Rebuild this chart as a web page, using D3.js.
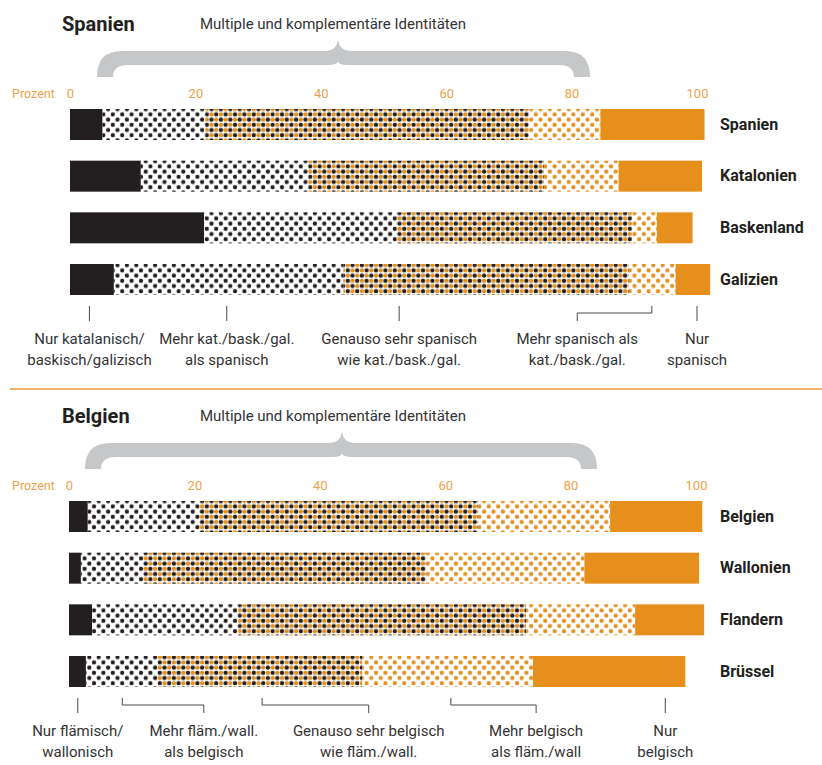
<!DOCTYPE html>
<html><head><meta charset="utf-8">
<script src="https://cdn.jsdelivr.net/npm/d3@7/dist/d3.min.js"></script>
<style>body{margin:0;background:#fff}svg{display:block;font-family:Roboto,"Noto Sans",sans-serif}</style>
</head><body><svg id="c" width="822" height="765"></svg>
<script>
// ---------- DATA ----------
const ticks = [0, 20, 40, 60, 80, 100];
const seriesKeys = ["nurReg", "mehrReg", "gleich", "mehrNat", "nurNat"];

const esRegions = ["Spanien", "Katalonien", "Baskenland", "Galizien"];
const esNurReg  = [5.2, 11.3, 21.4, 7.0];
const esMehrReg = [16.4, 26.7, 30.7, 36.6];
const esGleich  = [51.6, 37.6, 37.6, 45.5];
const esMehrNat = [11.4, 11.9, 3.9, 7.5];
const esNurNat  = [16.6, 13.3, 5.7, 5.5];

const beRegions = ["Belgien", "Wallonien", "Flandern", "Brüssel"];
const beNurReg  = [3.0, 1.9, 3.7, 2.7];
const beMehrReg = [17.8, 9.9, 23.3, 11.4];
const beGleich  = [44.5, 45.2, 45.9, 32.7];
const beMehrNat = [21.0, 25.2, 17.4, 27.2];
const beNurNat  = [14.7, 18.3, 11.0, 24.3];

const esNotes = [
  ["Nur katalanisch/", "baskisch/galizisch"],
  ["Mehr kat./bask./gal.", "als spanisch"],
  ["Genauso sehr spanisch", "wie kat./bask./gal."],
  ["Mehr spanisch als", "kat./bask./gal."],
  ["Nur", "spanisch"]
];
// [pointer %, label %]
const esNotePos = [[3.1, 3.1], [25.0, 25.0], [52.5, 52.5], [92.8, 80.9], [100, 100]];

const beNotes = [
  ["Nur flämisch/", "wallonisch"],
  ["Mehr fläm./wall.", "als belgisch"],
  ["Genauso sehr belgisch", "wie fläm./wall."],
  ["Mehr belgisch", "als fläm./wall"],
  ["Nur", "belgisch"]
];
const beNotePos = [[1.4, 1.4], [8.5, 21.5], [30.8, 47.8], [60.9, 74.5], [95.1, 95.1]];

const titleText = ["Spanien", "Belgien"];
const braceText = "Multiple und komplementäre Identitäten";

// ---------- STYLE ----------
const BLACK = "#231f20", ORANGE = "#e68f1d", LORANGE = "#eea24c", GREY = "#c6c7c9";
const svg = d3.select("#c");
const defs = svg.append("defs");

function dotPattern(id, dots, w, h) {
  const p = defs.append("pattern").attr("id", id).attr("patternUnits", "userSpaceOnUse")
    .attr("width", w).attr("height", h);
  p.append("rect").attr("width", w).attr("height", h).attr("fill", "#fff");
  dots.forEach(d => {
    [[0,0],[w,0],[0,h],[w,h]].forEach(o => {
      p.append("circle").attr("cx", d[0] + o[0]).attr("cy", d[1] + o[1]).attr("r", d[2]).attr("fill", d[3]);
    });
  });
}
const PW = 9.4, PH = 10.4;
dotPattern("pBlack", [[0,0,2.1,BLACK],[PW/2,PH/2,2.1,BLACK]], PW, PH);
dotPattern("pMix", [[0,0,2.2,BLACK],[PW/2,PH/2,2.2,BLACK],[PW/2,0,2.2,ORANGE],[0,PH/2,2.2,ORANGE]], PW, PH);
dotPattern("pOrange", [[0,0,2.1,ORANGE],[PW/2,PH/2,2.1,ORANGE]], PW, PH);

const fills = {nurReg: BLACK, mehrReg: "url(#pBlack)", gleich: "url(#pMix)", mehrNat: "url(#pOrange)", nurNat: ORANGE};

function brace(g, x0, x1, xm, yT) {
  const th = 14, yB = yT + th, yEnd = yT + 26, yTip = yT - 11;
  const p = `M${x0},${yEnd} Q${x0},${yT} ${x0+25},${yT} L${xm-12},${yT} Q${xm-2},${yT} ${xm},${yTip}
    Q${xm+2},${yT} ${xm+12},${yT} L${x1-25},${yT} Q${x1},${yT} ${x1},${yEnd} L${x1-16},${yEnd}
    Q${x1-16},${yB} ${x1-31},${yB} L${xm+10},${yB} Q${xm},${yB} ${xm},${yB-4} Q${xm},${yB} ${xm-10},${yB}
    L${x0+31},${yB} Q${x0+16},${yB} ${x0+16},${yEnd} Z`;
  g.append("path").attr("d", p).attr("fill", GREY);
}

function panel(cfg) {
  const g = svg.append("g").attr("transform", `translate(0,${cfg.dy})`);
  const x = d3.scaleLinear().domain([0, 100]).range(cfg.xr);
  const y = d3.scaleBand().domain(cfg.regions).range([109, 295]).paddingInner(0.4).paddingOuter(0);

  g.append("text").attr("x", 62).attr("y", 31).attr("font-size", 20).attr("font-weight", 700)
    .attr("fill", BLACK).text(cfg.title);
  g.append("text").attr("x", 200).attr("y", 29).attr("font-size", 15).attr("fill", "#333")
    .text(braceText);
  brace(g, cfg.brace[0], cfg.brace[1], cfg.brace[2], 51);

  // axis
  g.append("text").attr("x", 12).attr("y", 98).attr("font-size", 12.5).attr("fill", LORANGE).text("Prozent");
  const ax = g.append("g").attr("transform", "translate(0,98)")
    .call(d3.axisTop(x).tickValues(ticks).tickSize(0).tickPadding(0));
  ax.select(".domain").remove();
  ax.selectAll("text").attr("font-size", 13).attr("fill", LORANGE).attr("font-family", "Roboto")
    .attr("dy", 0);

  // bars
  const rows = cfg.regions.map((r, i) => {
    const o = {region: r};
    seriesKeys.forEach(k => o[k] = cfg.values[k][i]);
    return o;
  });
  const stack = d3.stack().keys(seriesKeys)(rows);
  g.selectAll("g.s").data(stack).join("g").attr("class", "s").attr("fill", d => fills[d.key])
    .selectAll("rect").data(d => d).join("rect")
    .attr("x", d => x(d[0])).attr("width", d => x(d[1]) - x(d[0]))
    .attr("y", d => y(d.data.region)).attr("height", y.bandwidth());

  g.selectAll("text.rl").data(cfg.regions).join("text").attr("class", "rl")
    .attr("x", 720).attr("y", d => y(d) + y.bandwidth() / 2 + 5)
    .attr("font-size", 16).attr("font-weight", 700).attr("fill", BLACK).text(d => d);

  // annotations
  const yTop = 306, yMid = 313, yBot = 321;
  cfg.notes.forEach((lines, i) => {
    const [p, l] = cfg.notePos[i];
    const xp = x(p), xl = x(l);
    let path;
    if (Math.abs(xp - xl) < 0.5) path = `M${xp},${yTop}V${yBot}`;
    else path = `M${xp},${yTop}V${yMid}H${xl}V${yBot}`;
    g.append("path").attr("d", path).attr("fill", "none").attr("stroke", "#4a4a4a").attr("stroke-width", 1);
    const t = g.append("text").attr("text-anchor", "middle").attr("font-size", 15).attr("fill", "#333");
    lines.forEach((s, j) => t.append("tspan").attr("x", xl).attr("y", 344 + j * 21).text(s));
  });
}

panel({dy: 0, title: titleText[0], regions: esRegions, xr: [70, 697], brace: [97, 590, 338],
  values: {nurReg: esNurReg, mehrReg: esMehrReg, gleich: esGleich, mehrNat: esMehrNat, nurNat: esNurNat},
  notes: esNotes, notePos: esNotePos});
panel({dy: 392, title: titleText[1], regions: beRegions, xr: [69, 696], brace: [85, 597, 342],
  values: {nurReg: beNurReg, mehrReg: beMehrReg, gleich: beGleich, mehrNat: beMehrNat, nurNat: beNurNat},
  notes: beNotes, notePos: beNotePos});

svg.append("line").attr("x1", 10).attr("x2", 822).attr("y1", 389).attr("y2", 389)
  .attr("stroke", "#eb9a3c").attr("stroke-width", 1.5);
</script></body></html>
